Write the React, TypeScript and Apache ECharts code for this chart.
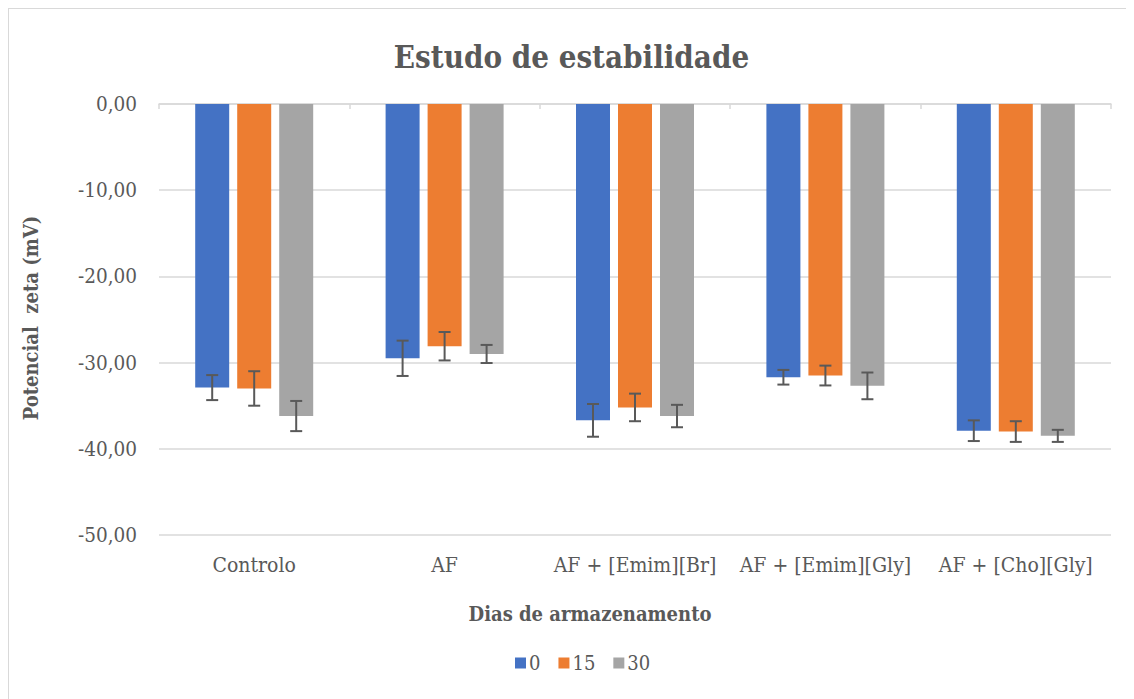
import React, { useEffect, useRef } from "react";
import * as echarts from "echarts";

const categories = ["Controlo", "AF", "AF + [Emim][Br]", "AF + [Emim][Gly]", "AF + [Cho][Gly]"];
const seriesNames = ["0", "15", "30"];
const day0 = [-32.9, -29.5, -36.7, -31.7, -37.9];
const day15 = [-33.0, -28.1, -35.2, -31.5, -38.0];
const day30 = [-36.2, -29.0, -36.2, -32.7, -38.5];
const err0 = [1.45, 2.05, 1.9, 0.85, 1.2];
const err15 = [2.0, 1.65, 1.6, 1.15, 1.2];
const err30 = [1.75, 1.05, 1.3, 1.55, 0.7];
const yTicks = { min: -50, max: 0, interval: 10 };

const colors = ["#4472C4", "#ED7D31", "#A5A5A5"];
const FONT = "DejaVu Serif Condensed";
const TXT = "#595959";
const BAR_W = 34;
const BAR_GAP_PX = 8;

export default function App() {
  const ref = useRef<HTMLDivElement>(null);
  useEffect(() => {
    if (!ref.current) return;
    const chart = echarts.init(ref.current, undefined, { renderer: "svg" });
    const values = [day0, day15, day30];
    const errs = [err0, err15, err30];

    const barSeries = values.map((vals, k) => ({
      name: seriesNames[k],
      type: "bar",
      xAxisIndex: 0,
      yAxisIndex: 0,
      data: vals,
      barWidth: BAR_W,
      barGap: (BAR_GAP_PX / BAR_W) * 100 + "%",
      itemStyle: { color: colors[k] },
      z: 2,
    }));

    const errSeries = values.map((vals, k) => ({
      name: "err" + k,
      type: "custom",
      xAxisIndex: 0,
      yAxisIndex: 0,
      z: 5,
      silent: true,
      encode: { x: 0, y: 1 },
      data: vals.map((v, i) => [i, v, errs[k][i]]),
      renderItem: (params: any, api: any) => {
        const xi = api.value(0);
        const m = api.value(1);
        const e = api.value(2);
        const offset = (k - 1) * (BAR_W + BAR_GAP_PX);
        const hi = api.coord([xi, m + e]);
        const lo = api.coord([xi, m - e]);
        const cx = hi[0] + offset;
        const cap = 6;
        const style = { stroke: TXT, lineWidth: 2 };
        return {
          type: "group",
          children: [
            { type: "line", shape: { x1: cx, y1: hi[1], x2: cx, y2: lo[1] }, style },
            { type: "line", shape: { x1: cx - cap, y1: hi[1], x2: cx + cap, y2: hi[1] }, style },
            { type: "line", shape: { x1: cx - cap, y1: lo[1], x2: cx + cap, y2: lo[1] }, style },
          ],
        };
      },
    }));

    chart.setOption({
      animation: false,
      backgroundColor: "#ffffff",
      textStyle: { fontFamily: FONT },
      title: {
        text: "Estudo de estabilidade",
        left: "center",
        top: 27,
        textStyle: { fontFamily: FONT, fontSize: 31, fontWeight: "bold", color: TXT },
      },
      legend: {
        data: seriesNames,
        left: 501,
        top: 639,
        icon: "rect",
        itemWidth: 11,
        itemHeight: 11,
        itemGap: 18,
        textStyle: { fontFamily: FONT, fontSize: 20, color: TXT, padding: [0, 0, 0, -2] },
      },
      grid: { left: 150, right: 23, top: 95, bottom: 164, containLabel: false },
      xAxis: [
        {
          type: "category",
          data: categories,
          position: "bottom",
          axisLine: { show: false },
          axisTick: { show: false },
          axisLabel: { fontFamily: FONT, fontSize: 21, color: TXT, margin: 19, interval: 0 },
        },
        {
          type: "category",
          data: categories,
          position: "top",
          axisLine: { show: true, lineStyle: { color: "#d9d9d9", width: 1.5 } },
          axisTick: { show: true, inside: true, length: 5, lineStyle: { color: "#d9d9d9", width: 1.5 } },
          axisLabel: { show: false },
        },
      ],
      yAxis: {
        type: "value",
        min: yTicks.min,
        max: yTicks.max,
        interval: yTicks.interval,
        axisLine: { show: false },
        axisTick: { show: false },
        splitLine: { show: true, lineStyle: { color: "#d9d9d9", width: 1.5 } },
        axisLabel: {
          fontFamily: FONT,
          fontSize: 20.5,
          color: TXT,
          margin: 22,
          formatter: (v: number) => v.toFixed(2).replace(".", ","),
        },
      },
      graphic: [
        {
          type: "text",
          x: 22,
          y: 309,
          rotation: Math.PI / 2,
          style: {
            text: "Potencial  zeta (mV)",
            fontFamily: FONT,
            fontSize: 20,
            fontWeight: "bold",
            fill: TXT,
            align: "center",
            verticalAlign: "middle",
          },
        },
        {
          type: "text",
          x: 581,
          y: 605,
          style: {
            text: "Dias de armazenamento",
            fontFamily: FONT,
            fontSize: 20,
            fontWeight: "bold",
            fill: TXT,
            align: "center",
            verticalAlign: "middle",
          },
        },
      ],
      series: [...barSeries, ...errSeries],
    });
    return () => chart.dispose();
  }, []);

  return (
    <div
      ref={ref}
      style={{
        width: 1125,
        height: 690,
        borderLeft: "2px solid #d9d9d9",
        borderTop: "2px solid #d9d9d9",
        marginLeft: -1,
        marginTop: -1,
      }}
    />
  );
}
